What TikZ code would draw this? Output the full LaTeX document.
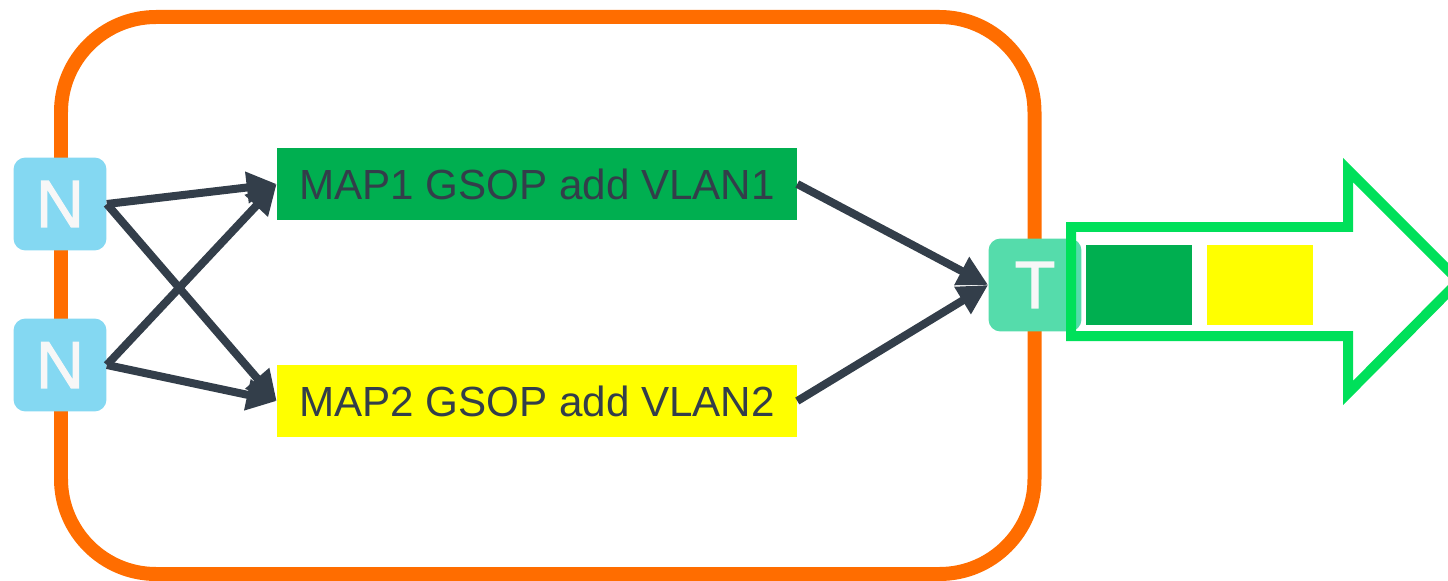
\documentclass[tikz,border=0pt]{standalone}
\usepackage{fontspec}
\setmainfont{Liberation Sans}
\newfontfamily\portfont[FakeBold=1.6]{Liberation Sans}
\usetikzlibrary{arrows.meta}
\definecolor{frameorange}{RGB}{255,109,0}
\definecolor{nblue}{RGB}{132,216,242}
\definecolor{tgreen}{RGB}{85,220,171}
\definecolor{slate}{RGB}{51,62,74}
\definecolor{mapgreen}{RGB}{0,175,80}
\definecolor{mapyellow}{RGB}{255,255,0}
\definecolor{outgreen}{RGB}{0,224,90}
\begin{document}
\begin{tikzpicture}[x=0.02cm,y=-0.02cm,
    port/.style={rounded corners=0.24cm,minimum size=1.86cm,inner sep=0pt,
                 text=white!97!black,font=\portfont\fontsize{38}{40}\selectfont},
    mapbox/.style={minimum width=10.4cm,minimum height=1.44cm,inner sep=0pt,
                   text=slate,font=\fontsize{24}{28}\selectfont},
    flow/.style={slate,line width=0.16cm,
                 -{Triangle[length=0.6cm,width=0.6cm]}},
    tag/.style={minimum width=2.12cm,minimum height=1.6cm,inner sep=0pt}]
  \useasboundingbox (0,0) rectangle (1448,581);
  %-------------------------------------------------- the device
  \draw[frameorange,line width=0.28cm,rounded corners=1.9cm]
    (61,17) rectangle (1034.5,574);
  \node[port,fill=nblue] (n1) at (60,204) {N};
  \node[port,fill=nblue] (n2) at (60,365) {N};
  \node[port,fill=tgreen] (t) at (1035,285) {T};
  %-------------------------------------------------- the two maps
  \node[mapbox,fill=mapgreen]  (map1) at (537,184) {MAP1 GSOP add VLAN1};
  \node[mapbox,fill=mapyellow] (map2) at (537,401) {MAP2 GSOP add VLAN2};
  \draw[flow] (n1.east) -- (map1.west);
  \draw[flow] (n1.east) -- (map2.west);
  \draw[flow] (n2.east) -- (map1.west);
  \draw[flow] (n2.east) -- (map2.west);
  \draw[flow] (map1.east) -- (t.west);
  \draw[flow] (map2.east) -- (t.west);
  %-------------------------------------------------- what leaves on T
  \draw[outgreen,line width=0.2cm,line join=miter]
    (1071,227) -- (1348,227) -- (1348,170) -- (1459,281)
    -- (1348,393) -- (1348,336) -- (1071,336) -- cycle;
  \node[tag,fill=mapgreen]  (vlan1) at (1139,285) {};
  \node[tag,fill=mapyellow] (vlan2) at (1260,285) {};
\end{tikzpicture}
\end{document}
